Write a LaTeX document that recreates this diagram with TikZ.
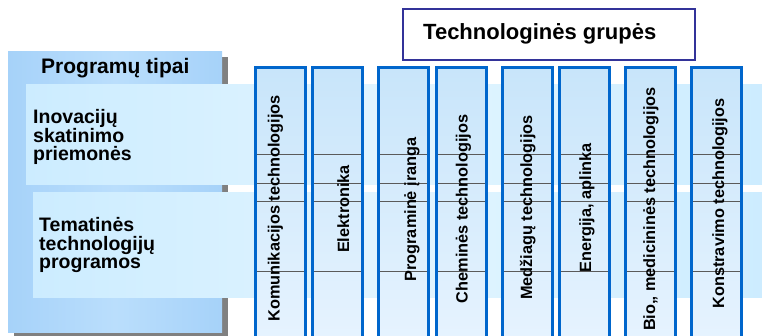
\documentclass[tikz,border=0pt]{standalone}
\usepackage{fontspec}
\setmainfont{Liberation Sans}
\definecolor{boxblue}{RGB}{166,210,249}
\definecolor{boxlight}{RGB}{186,222,252}
\definecolor{bandblue}{RGB}{204,236,255}
\definecolor{bandlight}{RGB}{226,245,255}
\definecolor{colborder}{RGB}{0,102,204}
\definecolor{coltop}{RGB}{200,229,250}
\definecolor{colbot}{RGB}{232,244,255}
\definecolor{titleborder}{RGB}{51,51,153}
\definecolor{shadowgrey}{RGB}{128,128,128}
\definecolor{rulegrey}{RGB}{90,90,90}
\begin{document}
\begin{tikzpicture}[x=1pt,y=-1pt,
  rect/.style={rectangle, inner sep=0pt, outer sep=0pt, anchor=north west},
  typesbox/.style={rect, left color=boxblue, right color=boxblue, middle color=boxlight},
  band/.style={rect, left color=bandblue, right color=bandblue, middle color=bandlight},
  colfill/.style={rect, top color=coltop, bottom color=colbot, minimum width=50pt, minimum height=290pt},
  colline/.style={draw=colborder, line width=3pt},
  rowline/.style={draw=rulegrey, line width=0.7pt},
  coltext/.style={rotate=90, anchor=base, inner sep=0pt, font=\bfseries\fontsize{16.3}{18}\selectfont},
  sidetext/.style={anchor=north west, align=left, inner sep=0pt, font=\bfseries\fontsize{19.5}{18.7}\selectfont},
  titlebox/.style={rect, draw=titleborder, line width=2.5pt, fill=white}
]
\useasboundingbox (0,0) rectangle (762,335);
\clip (0,0) rectangle (762,335);

% program types box with shadow
\fill[shadowgrey] (14,57) rectangle (228,340);
\node[typesbox, minimum width=214pt, minimum height=281pt] (types) at (8,51) {};
\node[anchor=base west, inner sep=0pt, font=\bfseries\fontsize{21}{24}\selectfont] (typeslbl) at (41,73) {Programų tipai};

% row bands
\node[band, minimum width=745pt, minimum height=100pt] (band1) at (26,84) {};
\node[band, minimum width=740pt, minimum height=105pt] (band2) at (33,192) {};
\node[sidetext] (inov) at (33,109) {Inovacijų\\skatinimo\\priemonės};
\node[sidetext] (tema) at (39,217) {Tematinės\\technologijų\\programos};

% title
\node[titlebox, minimum width=292pt, minimum height=51pt] (title) at (403,9) {};
\node[anchor=base west, inner sep=0pt, font=\bfseries\fontsize{22}{24}\selectfont] (titlelbl) at (423,39.5) {Technologinės grupės};

% row separator levels
\coordinate (ra) at (0,154);
\coordinate (rb) at (0,183);
\coordinate (rc) at (0,201);
\coordinate (rd) at (0,271);

% technology columns
\foreach \i/\x/\bx/\cy/\lbl in {
  1/255.5/279.7/208.5/{Komunikacijos technologijos},
  2/312.5/349/209/{Elektronika},
  3/378.5/416/209.5/{Programinė įranga},
  4/436.5/467.5/209/{Cheminės technologijos},
  5/502.5/532/207.5/{Medžiagų technologijos},
  6/559.5/591/208/{Energija, aplinka},
  7/625.5/655/209/{Bio,, medicininės technologijos},
  8/691.5/724/203.5/{Konstravimo technologijos}}{
  \node[colfill] (c\i) at (\x,67.5) {};
  \foreach \r in {ra,rb,rc,rd}{
    \draw[rowline] (c\i.west |- \r) -- (c\i.east |- \r);
  }
  \draw[colline] (c\i.north west) rectangle (c\i.south east);
  \node[coltext] (t\i) at (\bx,\cy) {\lbl};
}
\end{tikzpicture}
\end{document}
